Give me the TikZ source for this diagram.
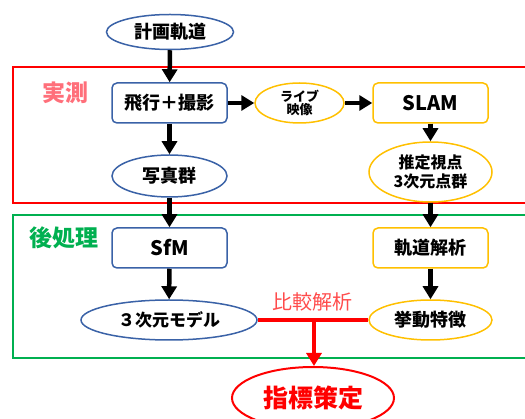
\documentclass[tikz,border=0pt]{standalone}
\usepackage{fontspec}
\newfontfamily\jp{Noto Sans CJK JP}
\usetikzlibrary{shapes.geometric,arrows.meta}
\definecolor{nblue}{HTML}{3A62A7}
\definecolor{nyellow}{HTML}{FFC000}
\definecolor{lred}{HTML}{FF6F7A}
\definecolor{cred}{HTML}{FF4B4B}
\definecolor{ngreen}{HTML}{00B050}
\tikzset{
  lbl/.style={font=\jp\bfseries\fontsize{18}{20}\selectfont, align=center, text=black},
  bluebox/.style={lbl, draw=nblue, line width=1.5pt, rounded corners=5pt, minimum width=115pt, minimum height=40pt, inner sep=0pt, fill=white},
  blueell/.style={lbl, draw=nblue, line width=1.5pt, ellipse, inner sep=0pt, fill=white},
  yelbox/.style={lbl, draw=nyellow, line width=1.5pt, rounded corners=5pt, minimum width=115pt, minimum height=40pt, inner sep=0pt, fill=white},
  yelell/.style={lbl, draw=nyellow, line width=1.5pt, ellipse, inner sep=0pt, fill=white},
  flow/.style={line width=4.5pt, -{Triangle[width=15pt,length=13pt]}},
  rflow/.style={draw=red, line width=4.5pt},
  area/.style={line width=1.8pt}
}
\begin{document}
\begin{tikzpicture}[x=1pt,y=-1pt]
\useasboundingbox (0,0) rectangle (525,419);
\clip (0,0) rectangle (525,419);
% areas
\draw[area, draw=red] (13,67) rectangle (540,203);
\draw[area, draw=ngreen] (13,215) rectangle (540,358);
\node[font=\jp\bfseries\fontsize{23}{25}\selectfont, text=lred] (jissoku) at (65,93) {実測};
\node[font=\jp\bfseries\fontsize{23}{25}\selectfont, text=ngreen] (koushori) at (64,238) {後処理};
% nodes
\node[blueell, minimum width=127pt, minimum height=35pt] (plan) at (170,32) {計画軌道};
\node[bluebox] (fly) at (169.5,103) {飛行＋撮影};
\node[blueell, minimum width=115pt, minimum height=42pt] (photo) at (169.5,176) {写真群};
\node[yelell, minimum width=89pt, minimum height=40pt, font=\jp\bfseries\fontsize{13}{14}\selectfont] (live) at (299.5,103) {ライブ\\[-1pt]映像};
\node[yelbox, font=\jp\bfseries\fontsize{20}{22}\selectfont] (slam) at (430.5,103) {SLAM};
\node[yelell, minimum width=123pt, minimum height=60pt, font=\jp\bfseries\fontsize{16}{19}\selectfont] (est) at (430.5,172) {推定視点\\3次元点群};
\node[bluebox, font=\jp\bfseries\fontsize{20}{22}\selectfont] (sfm) at (169.5,248) {SfM};
\node[blueell, minimum width=176pt, minimum height=40pt, font=\jp\bfseries\fontsize{17}{19}\selectfont] (model) at (169,320) {３次元モデル};
\node[yelbox] (orbit) at (430.5,248) {軌道解析};
\node[yelell, minimum width=123pt, minimum height=40pt] (beh) at (430.5,320) {挙動特徴};
\node[ellipse, draw=red, line width=2pt, fill=white, minimum width=162pt, minimum height=62pt, inner sep=0pt, font=\jp\bfseries\fontsize{25}{27}\selectfont, text=red] (index) at (313,398) {指標策定};
% arrows
\draw[flow] (plan) -- (fly);
\draw[flow] (fly) -- (photo);
\draw[flow] (fly) -- (live);
\draw[flow] (live) -- (slam);
\draw[flow] (slam) -- (est);
\draw[flow] (photo) -- (sfm);
\draw[flow] (est) -- (orbit);
\draw[flow] (sfm) -- (model);
\draw[flow] (orbit) -- (beh);
% comparison
\coordinate (br) at (314,320);
\draw[rflow] (model.east) -- (beh.west);
\draw[rflow, -{Triangle[width=15pt,length=13pt]}] (br) -- (br |- index.north);
\node[font=\jp\fontsize{20}{22}\selectfont, text=cred] (cmp) at (312,302) {比較解析};
\end{tikzpicture}
\end{document}
